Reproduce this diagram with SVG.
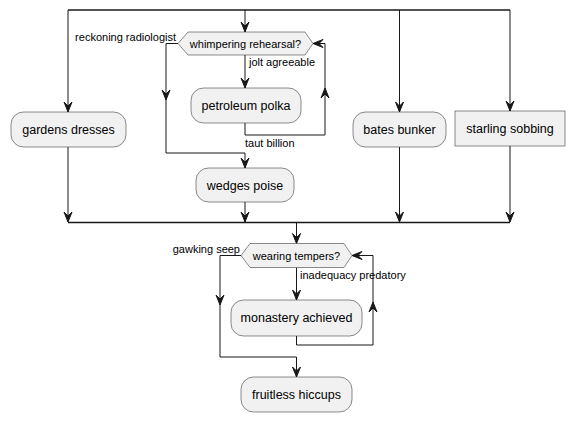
<svg xmlns="http://www.w3.org/2000/svg" width="574" height="422" viewBox="0 0 574 422">
<style>
.box{fill:#F1F1F1;stroke:#181818;stroke-width:0.5}
.ln{fill:none;stroke:#181818;stroke-width:1}
.bar{fill:none;stroke:#181818;stroke-width:1.5}
.ah{fill:#181818;stroke:#181818;stroke-width:1}
.t{font-family:"Liberation Sans",Arial,sans-serif;font-size:12.5px;fill:#000;text-anchor:middle}
.lb{font-family:"Liberation Sans",Arial,sans-serif;font-size:11px;fill:#000}
</style>
<rect width="574" height="422" fill="#FFFFFF"/>
<g id="connectors">
<line class="bar" x1="68" y1="10" x2="510" y2="10"/>
<line class="bar" x1="68" y1="222.5" x2="510" y2="222.5"/>
<polyline class="ln" points="68,10 68,112"/>
<polygon class="ah" points="64,102 68,112 72,102 68,106"/>
<polyline class="ln" points="245,10 245,32"/>
<polygon class="ah" points="241,22 245,32 249,22 245,26"/>
<polyline class="ln" points="399.5,10 399.5,112"/>
<polygon class="ah" points="395.5,102 399.5,112 403.5,102 399.5,106"/>
<polyline class="ln" points="510,10 510,111"/>
<polygon class="ah" points="506,101 510,111 514,101 510,105"/>
<polyline class="ln" points="245,55 245,88"/>
<polygon class="ah" points="241,78 245,88 249,78 245,82"/>
<polyline class="ln" points="178,43.5 166,43.5 166,153 245,153 245,168"/>
<polygon class="ah" points="162,90 166,100 170,90 166,94"/>
<polygon class="ah" points="241,158 245,168 249,158 245,162"/>
<polyline class="ln" points="245,123 245,135 325,135 325,43.5 313,43.5"/>
<polygon class="ah" points="321,98 325,88 329,98 325,94"/>
<polygon class="ah" points="323,39.5 313,43.5 323,47.5 319,43.5"/>
<polyline class="ln" points="245,202 245,222"/>
<polygon class="ah" points="241,212 245,222 249,212 245,216"/>
<polyline class="ln" points="68,147 68,222"/>
<polygon class="ah" points="64,212 68,222 72,212 68,216"/>
<polyline class="ln" points="399.5,147 399.5,222"/>
<polygon class="ah" points="395.5,212 399.5,222 403.5,212 399.5,216"/>
<polyline class="ln" points="510,146 510,222"/>
<polygon class="ah" points="506,212 510,222 514,212 510,216"/>
<polyline class="ln" points="296.5,223 296.5,243.5"/>
<polygon class="ah" points="292.5,233.5 296.5,243.5 300.5,233.5 296.5,237.5"/>
<polyline class="ln" points="296.5,267.5 296.5,300"/>
<polygon class="ah" points="292.5,290 296.5,300 300.5,290 296.5,294"/>
<polyline class="ln" points="241,255.5 220,255.5 220,357 296.5,357 296.5,377"/>
<polygon class="ah" points="216,295 220,305 224,295 220,299"/>
<polygon class="ah" points="292.5,367 296.5,377 300.5,367 296.5,371"/>
<polyline class="ln" points="296.5,336 296.5,345 373,345 373,255.5 352,255.5"/>
<polygon class="ah" points="369,312 373,302 377,312 373,308"/>
<polygon class="ah" points="362,251.5 352,255.5 362,259.5 358,255.5"/>
<text class="lb" x="176" y="41" text-anchor="end">reckoning radiologist</text>
<text class="lb" x="249" y="66">jolt agreeable</text>
<text class="lb" x="245" y="147">taut billion</text>
<text class="lb" x="240" y="253" text-anchor="end">gawking seep</text>
<text class="lb" x="300" y="279">inadequacy predatory</text>
</g>
<g id="gardens_dresses">
<rect class="box" x="11" y="112" width="115" height="35" rx="12.5"/>
<text class="t" x="68.5" y="134">gardens dresses</text>
</g>
<g id="whimpering_rehearsal">
<polygon class="box" points="178,43.5 188,32 305,32 313,43.5 305,55 188,55"/>
<text class="lb" x="245.5" y="47.5" text-anchor="middle">whimpering rehearsal?</text>
</g>
<g id="petroleum_polka">
<rect class="box" x="191" y="88" width="110" height="35" rx="12.5"/>
<text class="t" x="246" y="110">petroleum polka</text>
</g>
<g id="wedges_poise">
<rect class="box" x="196" y="168" width="98" height="34" rx="12.5"/>
<text class="t" x="245" y="189.5">wedges poise</text>
</g>
<g id="bates_bunker">
<rect class="box" x="353" y="112" width="93" height="35" rx="12.5"/>
<text class="t" x="399.5" y="134">bates bunker</text>
</g>
<g id="starling_sobbing">
<rect class="box" x="455" y="111" width="110" height="35"/>
<text class="t" x="510" y="133">starling sobbing</text>
</g>
<g id="wearing_tempers">
<polygon class="box" points="241,255.5 250,243.5 344,243.5 352,255.5 344,267.5 250,267.5"/>
<text class="lb" x="296.5" y="259.5" text-anchor="middle">wearing tempers?</text>
</g>
<g id="monastery_achieved">
<rect class="box" x="231" y="300" width="131" height="36" rx="12.5"/>
<text class="t" x="296.5" y="322">monastery achieved</text>
</g>
<g id="fruitless_hiccups">
<rect class="box" x="241" y="377" width="111" height="35" rx="12.5"/>
<text class="t" x="296.5" y="399">fruitless hiccups</text>
</g>
</svg>
